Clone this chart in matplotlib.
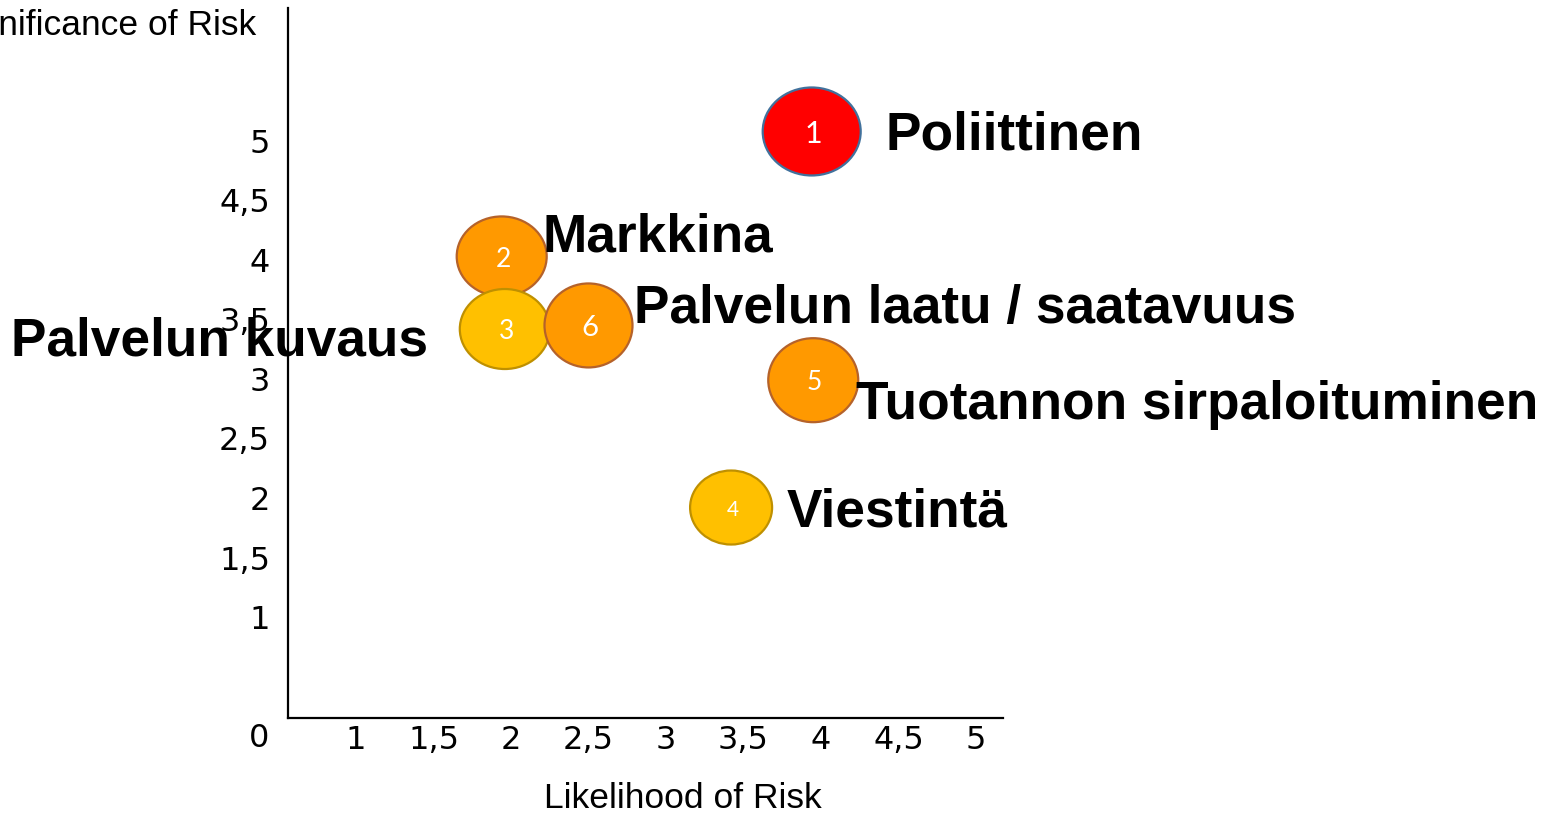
import matplotlib.pyplot as plt
from matplotlib.patches import Ellipse

# risk data: likelihood (x), significance (y)
risk_ids = ['1', '2', '3', '4', '5', '6']
risk_names = ['Poliittinen', 'Markkina', 'Palvelun kuvaus', 'Viestintä',
              'Tuotannon sirpaloituminen', 'Palvelun laatu / saatavuus']
likelihood = [3.94, 1.94, 1.96, 3.42, 3.95, 2.50]
significance = [5.08, 4.03, 3.42, 1.92, 2.99, 3.45]
tick_values = [1, 1.5, 2, 2.5, 3, 3.5, 4, 4.5, 5]
tick_labels = ['1', '1,5', '2', '2,5', '3', '3,5', '4', '4,5', '5']

# styling
fills = ['#FF0000', '#FF9900', '#FFC000', '#FFC000', '#FF9900', '#FF9900']
edges = ['#41719C', '#B5622A', '#BF9000', '#BF9000', '#B5622A', '#B5622A']
w_px = [98, 90, 90, 82, 90, 88]
h_px = [88, 80, 80, 74, 84, 84]
num_size = [22, 19, 19, 15, 19, 21]
# label offset from bubble centre in pixels (dx, dy) and alignment
lab_off = [(74, -4), (41, 19), (-77, -12), (56, -5), (43, -25), (45, 16)]
lab_ha = ['left', 'left', 'right', 'left', 'left', 'left']

fig = plt.figure(figsize=(15.46, 8.13), dpi=100)
ax = fig.add_axes([288 / 1546, 95 / 813, 715 / 1546, 710 / 813])

xpx, ypx = 155.0, 119.0  # pixels per data unit
ax.set_xlim(1 - 68 / xpx, 1 + 647 / xpx)
ax.set_ylim(1 - 101 / ypx, 5 + 133 / ypx)

for i in range(len(risk_ids)):
    e = Ellipse((likelihood[i], significance[i]), w_px[i] / xpx, h_px[i] / ypx,
                facecolor=fills[i], edgecolor=edges[i], linewidth=1.6, zorder=2 + i)
    ax.add_patch(e)
    ax.annotate(risk_ids[i], (likelihood[i], significance[i]), xytext=(1, -2),
                textcoords='offset points', ha='center', va='center',
                color='white', fontsize=num_size[i], family='Lato', zorder=10)
    dx, dy = lab_off[i]
    ax.annotate(risk_names[i], (likelihood[i], significance[i]),
                xytext=(dx * 0.72, dy * 0.72), textcoords='offset points',
                ha=lab_ha[i], va='center', fontsize=38.3, fontweight='bold',
                family='Liberation Sans', zorder=12, annotation_clip=False)

for s in ['top', 'right']:
    ax.spines[s].set_visible(False)
for s in ['left', 'bottom']:
    ax.spines[s].set_linewidth(1.6)

ax.set_xticks(tick_values)
ax.set_xticklabels(tick_labels)
ax.set_yticks(tick_values)
ax.set_yticklabels(tick_labels)
ax.tick_params(axis='both', length=0, labelsize=23)
ax.tick_params(axis='x', pad=5)
ax.tick_params(axis='y', pad=13)
for t in ax.get_xticklabels() + ax.get_yticklabels():
    t.set_family('DejaVu Sans')

fig.text(259 / 1546, 1 - 738 / 813, '0', ha='center', va='center',
         fontsize=23, family='DejaVu Sans')
fig.text(683 / 1546, 1 - 798 / 813, 'Likelihood of Risk', ha='center', va='center',
         fontsize=25.5, family='Liberation Sans')
fig.text(256 / 1546, 1 - 25 / 813, 'Significance of Risk', ha='right', va='center',
         fontsize=25.5, family='Liberation Sans')

fig.savefig('out.png', dpi=100)
